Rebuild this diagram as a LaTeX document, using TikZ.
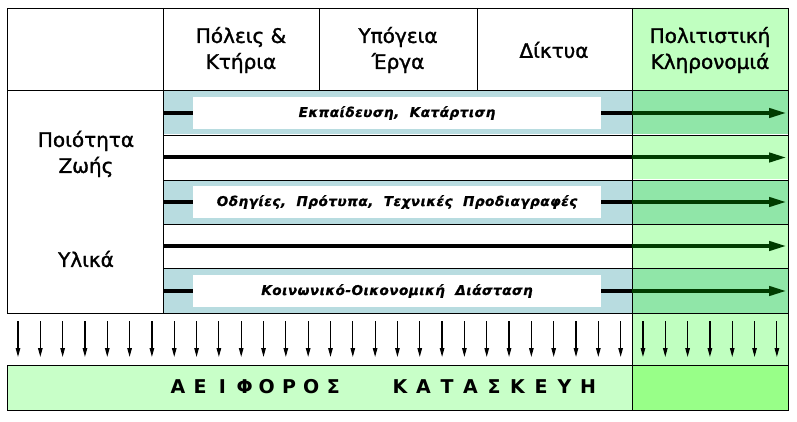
\documentclass[tikz,border=0pt]{standalone}
\usepackage{fontspec}
\setmainfont{DejaVu Sans}
\newfontfamily\headfont[FakeBold=1.5]{DejaVu Sans}
\newfontfamily\labelfont[LetterSpace=4,WordSpace=2,FakeBold=1]{DejaVu Sans Bold Oblique}
\usetikzlibrary{arrows.meta, % 箭头的library
  positioning}               % 相对地放置节点

% 颜色
\definecolor{rowblue}{RGB}{184,220,224}
\definecolor{rowgreen}{RGB}{144,230,168}
\definecolor{lightgreen}{RGB}{192,255,192}
\definecolor{basegreen}{RGB}{200,255,200}
\definecolor{brightgreen}{RGB}{152,255,136}
\definecolor{arrowgreen}{RGB}{0,60,0}

\begin{document}
\begin{tikzpicture}[x=1pt,y=-1pt,
  % 定义了全局的style:
  {grid line}/.style={line width=0.8pt,draw=black},
  {head}/.style={font=\headfont\fontsize{20}{26}\selectfont,align=center,inner sep=0pt},
  {row label}/.style={fill=white,minimum width=408pt,minimum height=32pt,inner sep=0pt,
    font=\labelfont\fontsize{13.5}{16}\selectfont},
  {flow}/.style={line width=4pt,draw=black},
  {green flow}/.style={flow,draw=arrowgreen,-{Triangle[length=18pt,width=9pt]}},
  {down}/.style={line width=1.2pt,-{Triangle[length=9pt,width=4.5pt]}},
  {letter}/.style={font=\bfseries\fontsize{19}{22}\selectfont,inner sep=0pt}]

  \useasboundingbox (0,0) rectangle (797,422);

  % 背景色块
  \foreach \y in {90,180,268}{
    \fill [rowblue] (163,\y) rectangle (632,\y+44.5);
    \fill [rowgreen] (632,\y) rectangle (788,\y+44.5);
  }
  \foreach \y in {135,224}{
    \fill [lightgreen] (632,\y) rectangle (788,\y+44.5);
  }
  \fill [lightgreen] (632,8) rectangle (788,90);
  \fill [lightgreen] (632,313) rectangle (788,365);
  \fill [basegreen] (7,365) rectangle (632,410);
  \fill [brightgreen] (632,365) rectangle (788,410);

  % 表格线
  \draw [grid line] (7,8) rectangle (788,313);
  \draw [grid line] (7,90) -- (788,90);
  \foreach \x in {319,477}{
    \draw [grid line] (\x,8) -- (\x,90);
  }
  \draw [grid line] (163,8) -- (163,313);
  \draw [grid line] (632,8) -- (632,410);
  \draw [grid line] (788,313) -- (788,365);
  \foreach \y in {135,180,224,268}{
    \draw [grid line] (163,\y) -- (788,\y);
  }
  \draw [grid line] (7,365) rectangle (788,410);

  % 标题
  \node [head] (cities) at (241,50) {Πόλεις \&\\Κτήρια};
  \node [head] (under) at (398,50) {Υπόγεια\\Έργα};
  \node [head] (nets) at (554,50) {Δίκτυα};
  \node [head] (heritage) at (710,50) {Πολιτιστική\\Κληρονομιά};
  \node [head] (life) at (86,154) {Ποιότητα\\Ζωής};
  \node [head] (mat) at (86,259) {Υλικά};

  \coordinate (gx) at (632,0);

  % 三行带文字的箭头
  \foreach \y/\txt/\n in {113/{Εκπαίδευση, Κατάρτιση}/1,
                          202/{Οδηγίες, Πρότυπα, Τεχνικές Προδιαγραφές}/3,
                          291/{Κοινωνικό-Οικονομική Διάσταση}/5}{
    \coordinate (w\n) at (163,\y);
    \coordinate (e\n) at (787,\y);
    \node [row label] (lb\n) at (397,\y) {\txt};
    \draw [flow] (w\n) -- (lb\n.west);
    \draw [flow] (lb\n.east) -- (lb\n.east -| gx);
    \draw [green flow] (lb\n.east -| gx) -- (e\n);
  }

  % 两行空箭头
  \foreach \y/\n in {157.5/2,246/4}{
    \coordinate (w\n) at (163,\y);
    \coordinate (e\n) at (787,\y);
    \draw [flow] (w\n) -- (w\n -| gx);
    \draw [green flow] (w\n -| gx) -- (e\n);
  }

  % 向下的箭头
  \foreach \i in {0,...,34}{
    \coordinate (dt\i) at ({18+22.32*\i},321);
    \coordinate (db\i) at ({18+22.32*\i},357);
    \draw [down] (dt\i) -- (db\i);
  }

  % 底部文字
  \foreach \c [count=\i from 0] in {Α,Ε,Ι,Φ,Ο,Ρ,Ο,Σ}{
    \node [letter] (a\i) at ({178+22.2*\i},387) {\c};
  }
  \foreach \c [count=\i from 0] in {Κ,Α,Τ,Α,Σ,Κ,Ε,Υ,Η}{
    \node [letter] (k\i) at ({400+23.5*\i},387) {\c};
  }

\end{tikzpicture}
\end{document}
